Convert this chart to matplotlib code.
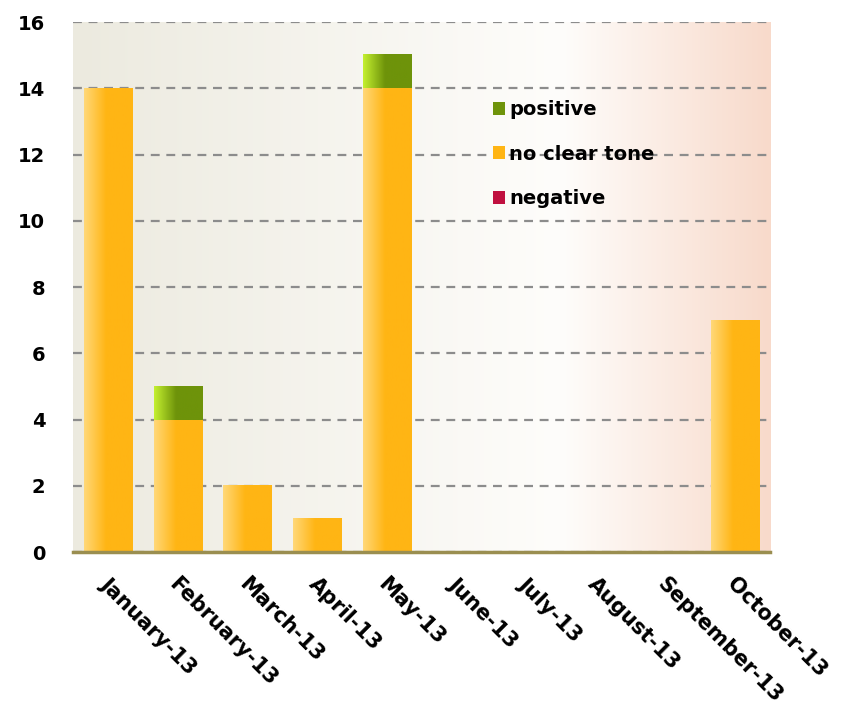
import matplotlib.pyplot as plt
import matplotlib.transforms as mtransforms
import numpy as np
from matplotlib.colors import LinearSegmentedColormap
from matplotlib.patches import Patch

months = ['January-13', 'February-13', 'March-13', 'April-13', 'May-13',
          'June-13', 'July-13', 'August-13', 'September-13', 'October-13']
negative = [0, 0, 0, 0, 0, 0, 0, 0, 0, 0]
no_clear = [14, 4, 2, 1, 14, 0, 0, 0, 0, 7]
positive = [0, 1, 0, 0, 1, 0, 0, 0, 0, 0]

# light edge -> full colour, for the horizontal shading of each bar
shades = {
    'negative': ['#F06080', '#C0103F', '#B0103A'],
    'no clear tone': ['#FFD878', '#FFB514', '#FFB514'],
    'positive': ['#C4F030', '#6E930A', '#6E930A'],
}

plt.rcParams['font.family'] = 'DejaVu Sans'
plt.rcParams['font.weight'] = 'bold'

fig = plt.figure(figsize=(8.41, 7.08), dpi=100)
ax = fig.add_axes([0.0868, 0.2203, 0.8288, 0.7486])

# background wash: beige on the left, white in the middle, peach on the right
bg = LinearSegmentedColormap.from_list(
    'bg', [(0.0, '#ECEADF'), (0.7, '#FEFDFB'), (1.0, '#F8DACB')])
ax.imshow(np.linspace(0, 1, 256)[None, :], aspect='auto', cmap=bg,
          extent=[0, 1, 0, 1], transform=ax.transAxes, zorder=0)

x = np.arange(len(months))
width = 0.69
grad = np.linspace(0, 1, 128)[None, :]


def shaded_bars(values, bottom, key):
    cmap = LinearSegmentedColormap.from_list(
        key, [(0.0, shades[key][0]), (0.45, shades[key][1]), (1.0, shades[key][2])])
    bars = ax.bar(x, values, width, bottom=bottom, color='none',
                  zorder=2, linewidth=0)
    for b in bars:
        if b.get_height() <= 0:
            continue
        x0, y0 = b.get_x(), b.get_y()
        ax.imshow(grad, aspect='auto', cmap=cmap, zorder=3,
                  extent=[x0, x0 + b.get_width(), y0, y0 + b.get_height()])
    return bars


shaded_bars(negative, 0, 'negative')
shaded_bars(no_clear, negative, 'no clear tone')
shaded_bars(positive, np.add(negative, no_clear), 'positive')

ax.set_xlim(-0.5, len(months) - 0.5)
ax.set_ylim(0, 16)
ax.set_yticks(range(0, 17, 2))
ax.yaxis.grid(True, linestyle=(0, (4, 3)), color='#8C8C8C', linewidth=1.6, zorder=1)
ax.set_axisbelow(True)

for s in ['top', 'right', 'left']:
    ax.spines[s].set_visible(False)
ax.spines['bottom'].set_color('#9A8E50')
ax.spines['bottom'].set_linewidth(2.5)
ax.spines['bottom'].set_zorder(4)

ax.tick_params(length=0, labelsize=14)
ax.tick_params(axis='y', pad=20)
ax.set_xticks(x)
ax.set_xticklabels(months, rotation=-45, ha='left', rotation_mode='anchor', fontsize=15)
shift = mtransforms.ScaledTranslation(0.02, -0.17, fig.dpi_scale_trans)
for lbl in ax.get_xticklabels():
    lbl.set_transform(lbl.get_transform() + shift)

handles = [Patch(facecolor=shades[k][1]) for k in ['positive', 'no clear tone', 'negative']]
ax.legend(handles, ['positive', 'no clear tone', 'negative'], loc='upper left',
          bbox_to_anchor=(0.577, 0.885), frameon=False, fontsize=14,
          handlelength=0.65, handleheight=0.65, handletextpad=0.2, labelspacing=1.3)

fig.savefig('out.png', dpi=100)
